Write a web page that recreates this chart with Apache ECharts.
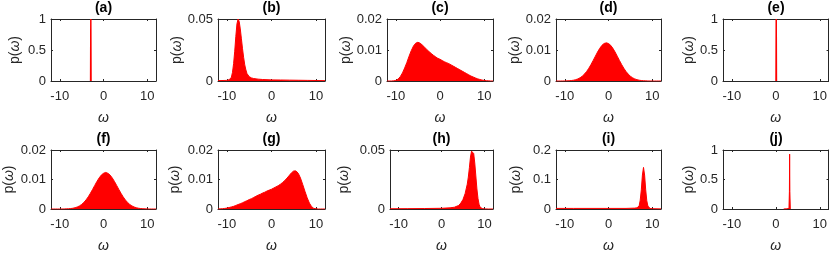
<!DOCTYPE html>
<html><head><meta charset="utf-8">
<script src="https://cdn.jsdelivr.net/npm/echarts@6/dist/echarts.min.js"></script>
<style>html,body{margin:0;padding:0;background:#fff}#c{width:830px;height:254px}</style>
</head><body><div id="c"></div>
<script>
// ---------------- data ----------------
const panelLabels = ['(a)','(b)','(c)','(d)','(e)','(f)','(g)','(h)','(i)','(j)'];
const xTicks = [-10, 0, 10];
const yMaxes = [1, 0.05, 0.02, 0.02, 1, 0.02, 0.02, 0.05, 0.2, 1];
const yTickSteps = [0.5, 0.05, 0.01, 0.01, 0.5, 0.01, 0.01, 0.05, 0.1, 0.5];

const omegaGrid = [-12,-11.5,-11,-10.5,-10,-9.5,-9,-8.5,-8,-7.5,-7,-6.5,-6,-5.5,-5,-4.5,-4,-3.5,-3,-2.5,-2,-1.5,-1,-0.5,0,
  0.5,1,1.5,2,2.5,3,3.5,4,4.5,5,5.5,6,6.5,7,7.5,8,8.5,9,9.5,10,10.5,11,11.5,12];

const aOmega = [-2.95, -2.9, -2.85];
const aP = [0, 1, 0];

const bOmega = [-12,-10,-9.5,-9,-8.75,-8.5,-8.25,-8,-7.75,-7.5,-7.25,-7,-6.75,-6.5,-6.25,-6,-5.75,-5.5,-5,-4.5,-4,-3,-2,0,2,4,6,8,10,12];
const bP = [0.0003,0.0005,0.001,0.003,0.007,0.014,0.024,0.036,0.046,0.050,0.048,0.042,0.034,0.026,0.019,0.013,0.009,0.006,0.0035,0.0025,0.002,0.0015,0.0012,0.0009,0.0008,0.0007,0.0006,0.0005,0.0004,0.0003];

const cP = [0,0,0,0.00005,0.0002,0.0006,0.0014,0.0026,0.0042,0.0060,0.0080,0.0098,0.0113,0.0122,0.0125,0.0122,0.0116,0.0109,0.0102,0.0095,0.0089,0.0083,0.0078,0.0073,0.0070,
  0.0066,0.0062,0.0059,0.0056,0.0052,0.0048,0.0044,0.0040,0.0036,0.0032,0.0028,0.0024,0.0020,0.0016,0.0013,0.0010,0.0007,0.0005,0.0003,0.0002,0.0001,0.00005,0,0];

const dP = [0,0,0,0.00001,0.00002,0.00005,0.00009,0.00015,0.00026,0.00043,0.00068,0.00104,0.00155,0.00222,0.00307,0.00411,0.00531,0.00663,0.0080,0.00935,0.01054,0.0115,0.0121,0.0123,0.0121,
  0.0115,0.01054,0.00935,0.0080,0.00663,0.00531,0.00411,0.00307,0.00222,0.00155,0.00104,0.00068,0.00043,0.00026,0.00015,0.00009,0.00005,0.00002,0.00001,0,0,0,0,0];

const eOmega = [0.05, 0.1, 0.15];
const eP = [0, 1, 0];

const fP = [0,0,0,0,0,0.00001,0.00002,0.00005,0.00009,0.00015,0.00026,0.00043,0.00068,0.00104,0.00155,0.00222,0.00307,0.00411,0.00531,0.00663,0.0080,0.00935,0.01054,0.0115,0.0121,
  0.0124,0.0121,0.0115,0.01054,0.00935,0.0080,0.00663,0.00531,0.00411,0.00307,0.00222,0.00155,0.00104,0.00068,0.00043,0.00026,0.00015,0.00009,0.00005,0.00002,0.00001,0,0,0];

const gP = [0,0.00005,0.0001,0.0002,0.0003,0.0005,0.0007,0.0009,0.0012,0.0015,0.0018,0.0021,0.0025,0.0028,0.0032,0.0035,0.0039,0.0043,0.0047,0.0050,0.0054,0.0057,0.0061,0.0064,0.0067,
  0.0071,0.0075,0.0079,0.0084,0.0090,0.0097,0.0105,0.0114,0.0123,0.0129,0.0129,0.0121,0.0105,0.0083,0.0060,0.0038,0.0020,0.0008,0.0002,0.00005,0,0,0,0];

const hOmega = [-12,-8,-4,0,2,3,4,4.5,5,5.5,6,6.25,6.5,6.75,7,7.25,7.5,7.75,8,8.25,8.5,8.75,9,9.5,10,11,12];
const hP = [0.0002,0.0003,0.0004,0.0006,0.001,0.0015,0.003,0.005,0.008,0.013,0.021,0.027,0.035,0.044,0.049,0.050,0.047,0.039,0.028,0.017,0.009,0.004,0.0015,0.0004,0.0001,0,0];

const iOmega = [-12,-8,-4,0,4,6,6.5,7,7.25,7.5,7.75,8,8.25,8.5,8.75,9,9.25,9.5,10,12];
const iP = [0.002,0.002,0.002,0.002,0.002,0.003,0.004,0.010,0.030,0.065,0.115,0.141,0.115,0.065,0.028,0.010,0.004,0.002,0.001,0.0005];

const jOmega = [1.8,2.5,3.0,3.1,3.15,3.2,3.3];
const jP = [0.001,0.003,0.01,0.3,0.93,0.3,0];

// ---------------- layout ----------------
const layout = [
  {l:51, t:19, w:105, h:62, g:29},
  {l:218,t:19, w:107, h:62, g:34},
  {l:387,t:19, w:106, h:62, g:33},
  {l:556,t:19, w:105, h:62, g:34},
  {l:723,t:19, w:106, h:62, g:26},
  {l:51, t:150,w:105, h:62, g:35},
  {l:218,t:150,w:107, h:62, g:36},
  {l:390,t:150,w:103, h:62, g:39},
  {l:556,t:150,w:105, h:62, g:33},
  {l:723,t:150,w:106, h:62, g:26}
];

function pairs(xs, ys){ return xs.map((x,k)=>[x, ys[k]]); }
const seriesData = [
  pairs(aOmega,aP), pairs(bOmega,bP), pairs(omegaGrid,cP), pairs(omegaGrid,dP), pairs(eOmega,eP),
  pairs(omegaGrid,fP), pairs(omegaGrid,gP), pairs(hOmega,hP), pairs(iOmega,iP), pairs(jOmega,jP)
];

const FONT = 'Liberation Sans, Arial, Helvetica, sans-serif';
const AX = '#262626';
const grid=[], xAxis=[], yAxis=[], series=[], title=[];
layout.forEach((L, k) => {
  grid.push({left:L.l, top:L.t, width:L.w, height:L.h, containLabel:false});
  title.push({text: panelLabels[k], left: L.l + L.w/2, top: L.t - 18, textAlign:'center', padding:0,
    textStyle:{fontFamily:FONT, fontSize:14, fontWeight:'bold', color:'#000'}});
  const xBase = {type:'value', gridIndex:k, min:-12, max:12, splitLine:{show:false},
    axisLine:{onZero:false, lineStyle:{color:AX, width:1}}};
  xAxis.push(Object.assign({}, xBase, {position:'bottom',
    axisTick:{inside:true, length:2, customValues:xTicks, lineStyle:{color:AX}},
    axisLabel:{customValues:xTicks, margin:9, fontFamily:FONT, fontSize:13, color:AX},
    name:'ω', nameLocation:'middle', nameGap:30,
    nameTextStyle:{fontFamily:FONT, fontSize:14, fontStyle:'italic', color:AX}}));
  xAxis.push(Object.assign({}, xBase, {position:'top',
    axisTick:{inside:true, length:2, customValues:xTicks, lineStyle:{color:AX}},
    axisLabel:{show:false}}));
  const yBase = {type:'value', gridIndex:k, min:0, max:yMaxes[k], interval:yTickSteps[k], splitLine:{show:false},
    axisLine:{onZero:false, lineStyle:{color:AX, width:1}}};
  yAxis.push(Object.assign({}, yBase, {position:'left',
    axisTick:{inside:true, length:2, lineStyle:{color:AX}},
    axisLabel:{margin:5, fontFamily:FONT, fontSize:13, color:AX},
    name:'p({i|ω})', nameLocation:'middle', nameGap:L.g, nameRotate:90,
    nameTextStyle:{fontFamily:FONT, fontSize:14, color:AX, rich:{i:{fontFamily:FONT, fontSize:14, fontStyle:'italic', color:AX}}}}));
  yAxis.push(Object.assign({}, yBase, {position:'right',
    axisTick:{inside:true, length:2, lineStyle:{color:AX}},
    axisLabel:{show:false}}));
  series.push({type:'line', xAxisIndex:2*k, yAxisIndex:2*k, data:seriesData[k], showSymbol:false, symbol:'none',
    lineStyle:{color:'#ff0000', width:(k===0||k===4)?1.5:1}, areaStyle:{color:'#ff0000', opacity:1},
    silent:true, animation:false, z:1});
});

const chart = echarts.init(document.getElementById('c'), null, {renderer:'canvas'});
chart.setOption({animation:false, backgroundColor:'#ffffff', title, grid, xAxis, yAxis, series});
</script>
</body></html>
